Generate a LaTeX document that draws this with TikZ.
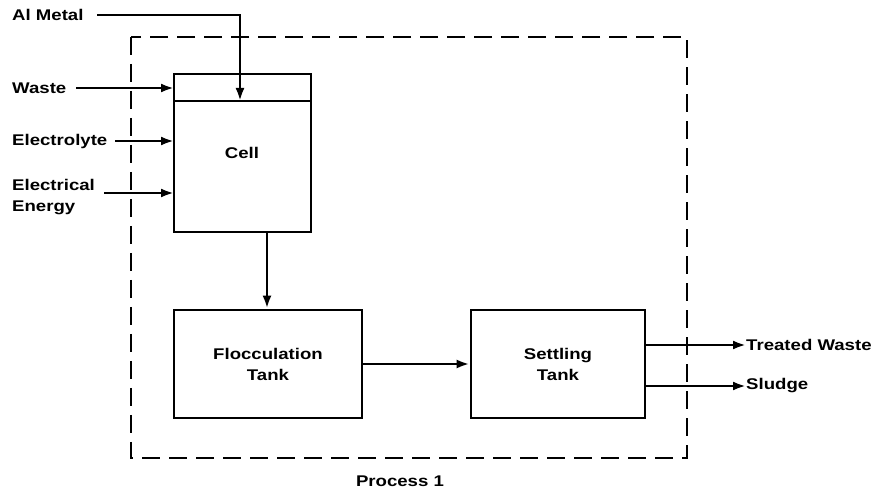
\documentclass[tikz,border=0pt]{standalone}
\usepackage{fontspec}
\setmainfont[FakeStretch=1.2]{Liberation Sans}
\usetikzlibrary{arrows.meta}
\begin{document}
\begin{tikzpicture}[x=1pt,y=-1pt,
  box/.style={draw,line width=2.8pt,inner sep=0pt,minimum width=0pt},
  lbl/.style={font=\fontsize{15.5}{21}\selectfont\bfseries,inner sep=0pt,align=left},
  flow/.style={line width=2.6pt,-{Latex[length=13pt,width=9pt]}},
  boundary/.style={line width=2.3pt,dash pattern=on 18pt off 9pt}]
\useasboundingbox (0,0) rectangle (879,494);
\draw[boundary] (131,37) rectangle (687,458);
% cell
\draw[box] (174,74) rectangle (311,232);
\draw[line width=2.8pt] (174,101) -- (311,101);
\coordinate (celltop) at (240,101);
\node[lbl] (cell) at (242,153) {Cell};
\node[box,minimum width=188pt,minimum height=108pt] (floc) at (268,364) {};
\node[lbl,align=center] at (floc) {Flocculation\\Tank};
\node[box,minimum width=174pt,minimum height=108pt] (settle) at (558,364) {};
\node[lbl,align=center] at (settle) {Settling\\Tank};
% inputs
\node[lbl,anchor=west] (al) at (12,15) {Al Metal};
\node[lbl,anchor=west] (waste) at (12,88) {Waste};
\node[lbl,anchor=west] (elyte) at (12,141) {Electrolyte};
\node[lbl,anchor=west] (energy) at (12,197) {Electrical\\Energy};
\draw[flow] (97,15) -| (celltop);
\draw[flow] (76,88) -- (174,88);
\draw[flow] (115,141) -- (174,141);
\draw[flow] (104,193) -- (174,193);
\draw[flow] (267,232) -- (floc.north -| 267,0);
\draw[flow] (floc.east) -- (settle.west);
\node[lbl,anchor=west] (tw) at (746,345) {Treated Waste};
\node[lbl,anchor=west] (sl) at (746,386) {Sludge};
\draw[flow] (settle.east |- tw) -- (tw.west);
\draw[flow] (settle.east |- sl) -- (sl.west);
\node[lbl] (proc) at (400,481) {Process 1};
\end{tikzpicture}
\end{document}
